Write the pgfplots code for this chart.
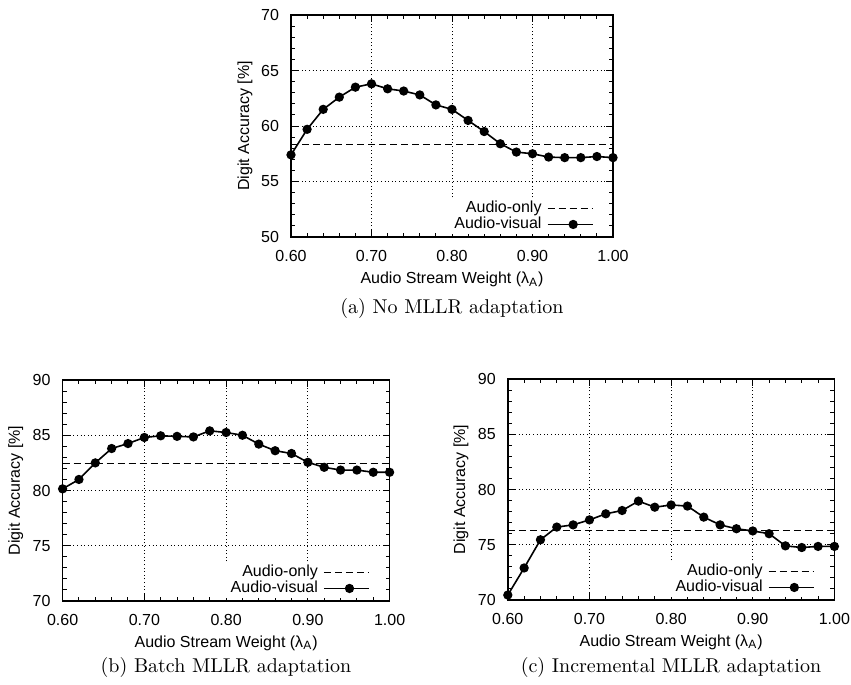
\documentclass[border=0pt]{standalone}
\usepackage{fontspec}
\usepackage{pgfplots}
\usepackage{pgfplotstable}
\pgfplotsset{compat=1.18}
\newfontfamily\arialfont{Liberation Sans}
\newcommand\lbl{\arialfont\fontsize{8}{9.6}\selectfont}

% audio stream weight vs digit accuracy (audio-visual)
\pgfplotstableread{
w av
0.60 57.4
0.62 59.7
0.64 61.5
0.66 62.6
0.68 63.5
0.70 63.8
0.72 63.35
0.74 63.15
0.76 62.8
0.78 61.9
0.80 61.5
0.82 60.5
0.84 59.5
0.86 58.4
0.88 57.65
0.90 57.5
0.92 57.2
0.94 57.15
0.96 57.15
0.98 57.25
1.00 57.15
}\noadapt

\pgfplotstableread{
w av
0.60 80.15
0.62 81.0
0.64 82.5
0.66 83.8
0.68 84.25
0.70 84.8
0.72 84.95
0.74 84.9
0.76 84.85
0.78 85.4
0.80 85.25
0.82 85.0
0.84 84.2
0.86 83.6
0.88 83.35
0.90 82.55
0.92 82.1
0.94 81.85
0.96 81.85
0.98 81.65
1.00 81.65
}\batch

\pgfplotstableread{
w av
0.60 70.45
0.62 72.9
0.64 75.45
0.66 76.6
0.68 76.8
0.70 77.25
0.72 77.8
0.74 78.1
0.76 78.95
0.78 78.4
0.80 78.6
0.82 78.5
0.84 77.5
0.86 76.8
0.88 76.45
0.90 76.25
0.92 76.0
0.94 74.9
0.96 74.75
0.98 74.85
1.00 74.85
}\incr

\pgfplotsset{
  legend image code/.code={\draw[mark repeat=2,mark phase=2,#1] plot coordinates {(0cm,0cm) (0.45cm,0cm) (0.8cm,0cm)};},
  mllr/.style={
    scale only axis, anchor=south west,
    xmin=0.6, xmax=1.0,
    xtick={0.6,0.7,0.8,0.9,1.0},
    xticklabels={0.60,0.70,0.80,0.90,1.00},
    minor x tick num=4, minor y tick num=4,
    tick align=inside,
    major tick length=3.5pt, minor tick length=2pt,
    grid=major,
    major grid style={black, line width=0.4pt, dash pattern=on 0.5pt off 1.3pt},
    axis line style={line width=0.8pt},
    every tick/.style={black, line width=0.5pt},
    ticklabel style={font=\lbl},
    xticklabel style={yshift=-3pt},
    yticklabel style={xshift=-2.5pt},
    label style={font=\lbl},
    xlabel={Audio Stream Weight (λ\textsubscript{A})},
    ylabel={Digit Accuracy [\%]},
    xlabel style={at={(axis description cs:0.5,-0.19)}, anchor=center},
    ylabel style={at={(axis description cs:-0.143,0.5)}, anchor=center},
    legend plot pos=right, legend cell align=right,
    legend style={draw=none, fill=white, font=\lbl, at={(0.945,0.012)},
      anchor=south east, inner sep=0.5pt, row sep=-0.5pt,
      nodes={inner ysep=0.6pt, inner xsep=2.6pt}},
    clip=false,
  },
  base/.style={black, line width=0.6pt, dash pattern=on 3.5pt off 2pt},
  avline/.style={black, line width=0.8pt, mark=*, mark size=1.9pt, mark options={solid}},
}

\begin{document}
\begin{tikzpicture}
\path[use as bounding box] (0,0) rectangle (425.5pt,-342.5pt);

% (a)
\begin{axis}[mllr, at={(145.5pt,-118.5pt)}, width=161pt, height=111pt,
  ymin=50, ymax=70, ytick={50,55,60,65,70}, yticklabels={50,55,60,65,70}]
\addplot[base] coordinates {(0.6,58.3) (1.0,58.3)};
\addlegendentry{Audio-only}
\addplot[avline] table[x=w,y=av] {\noadapt};
\addlegendentry{Audio-visual}
\end{axis}
\node at (226pt,-154pt) {(a) No MLLR adaptation};

% (b)
\begin{axis}[mllr, at={(31.3pt,-300.5pt)}, width=163.5pt, height=110.5pt,
  ymin=70, ymax=90, ytick={70,75,80,85,90}, yticklabels={70,75,80,85,90}]
\addplot[base] coordinates {(0.6,82.45) (1.0,82.45)};
\addlegendentry{Audio-only}
\addplot[avline] table[x=w,y=av] {\batch};
\addlegendentry{Audio-visual}
\end{axis}
\node at (113pt,-333.5pt) {(b) Batch MLLR adaptation};

% (c)
\begin{axis}[mllr, at={(253.9pt,-300pt)}, width=163.3pt, height=110.5pt,
  ymin=70, ymax=90, ytick={70,75,80,85,90}, yticklabels={70,75,80,85,90}]
\addplot[base] coordinates {(0.6,76.3) (1.0,76.3)};
\addlegendentry{Audio-only}
\addplot[avline] table[x=w,y=av] {\incr};
\addlegendentry{Audio-visual}
\end{axis}
\node at (335.5pt,-333.5pt) {(c) Incremental MLLR adaptation};
\end{tikzpicture}
\end{document}
